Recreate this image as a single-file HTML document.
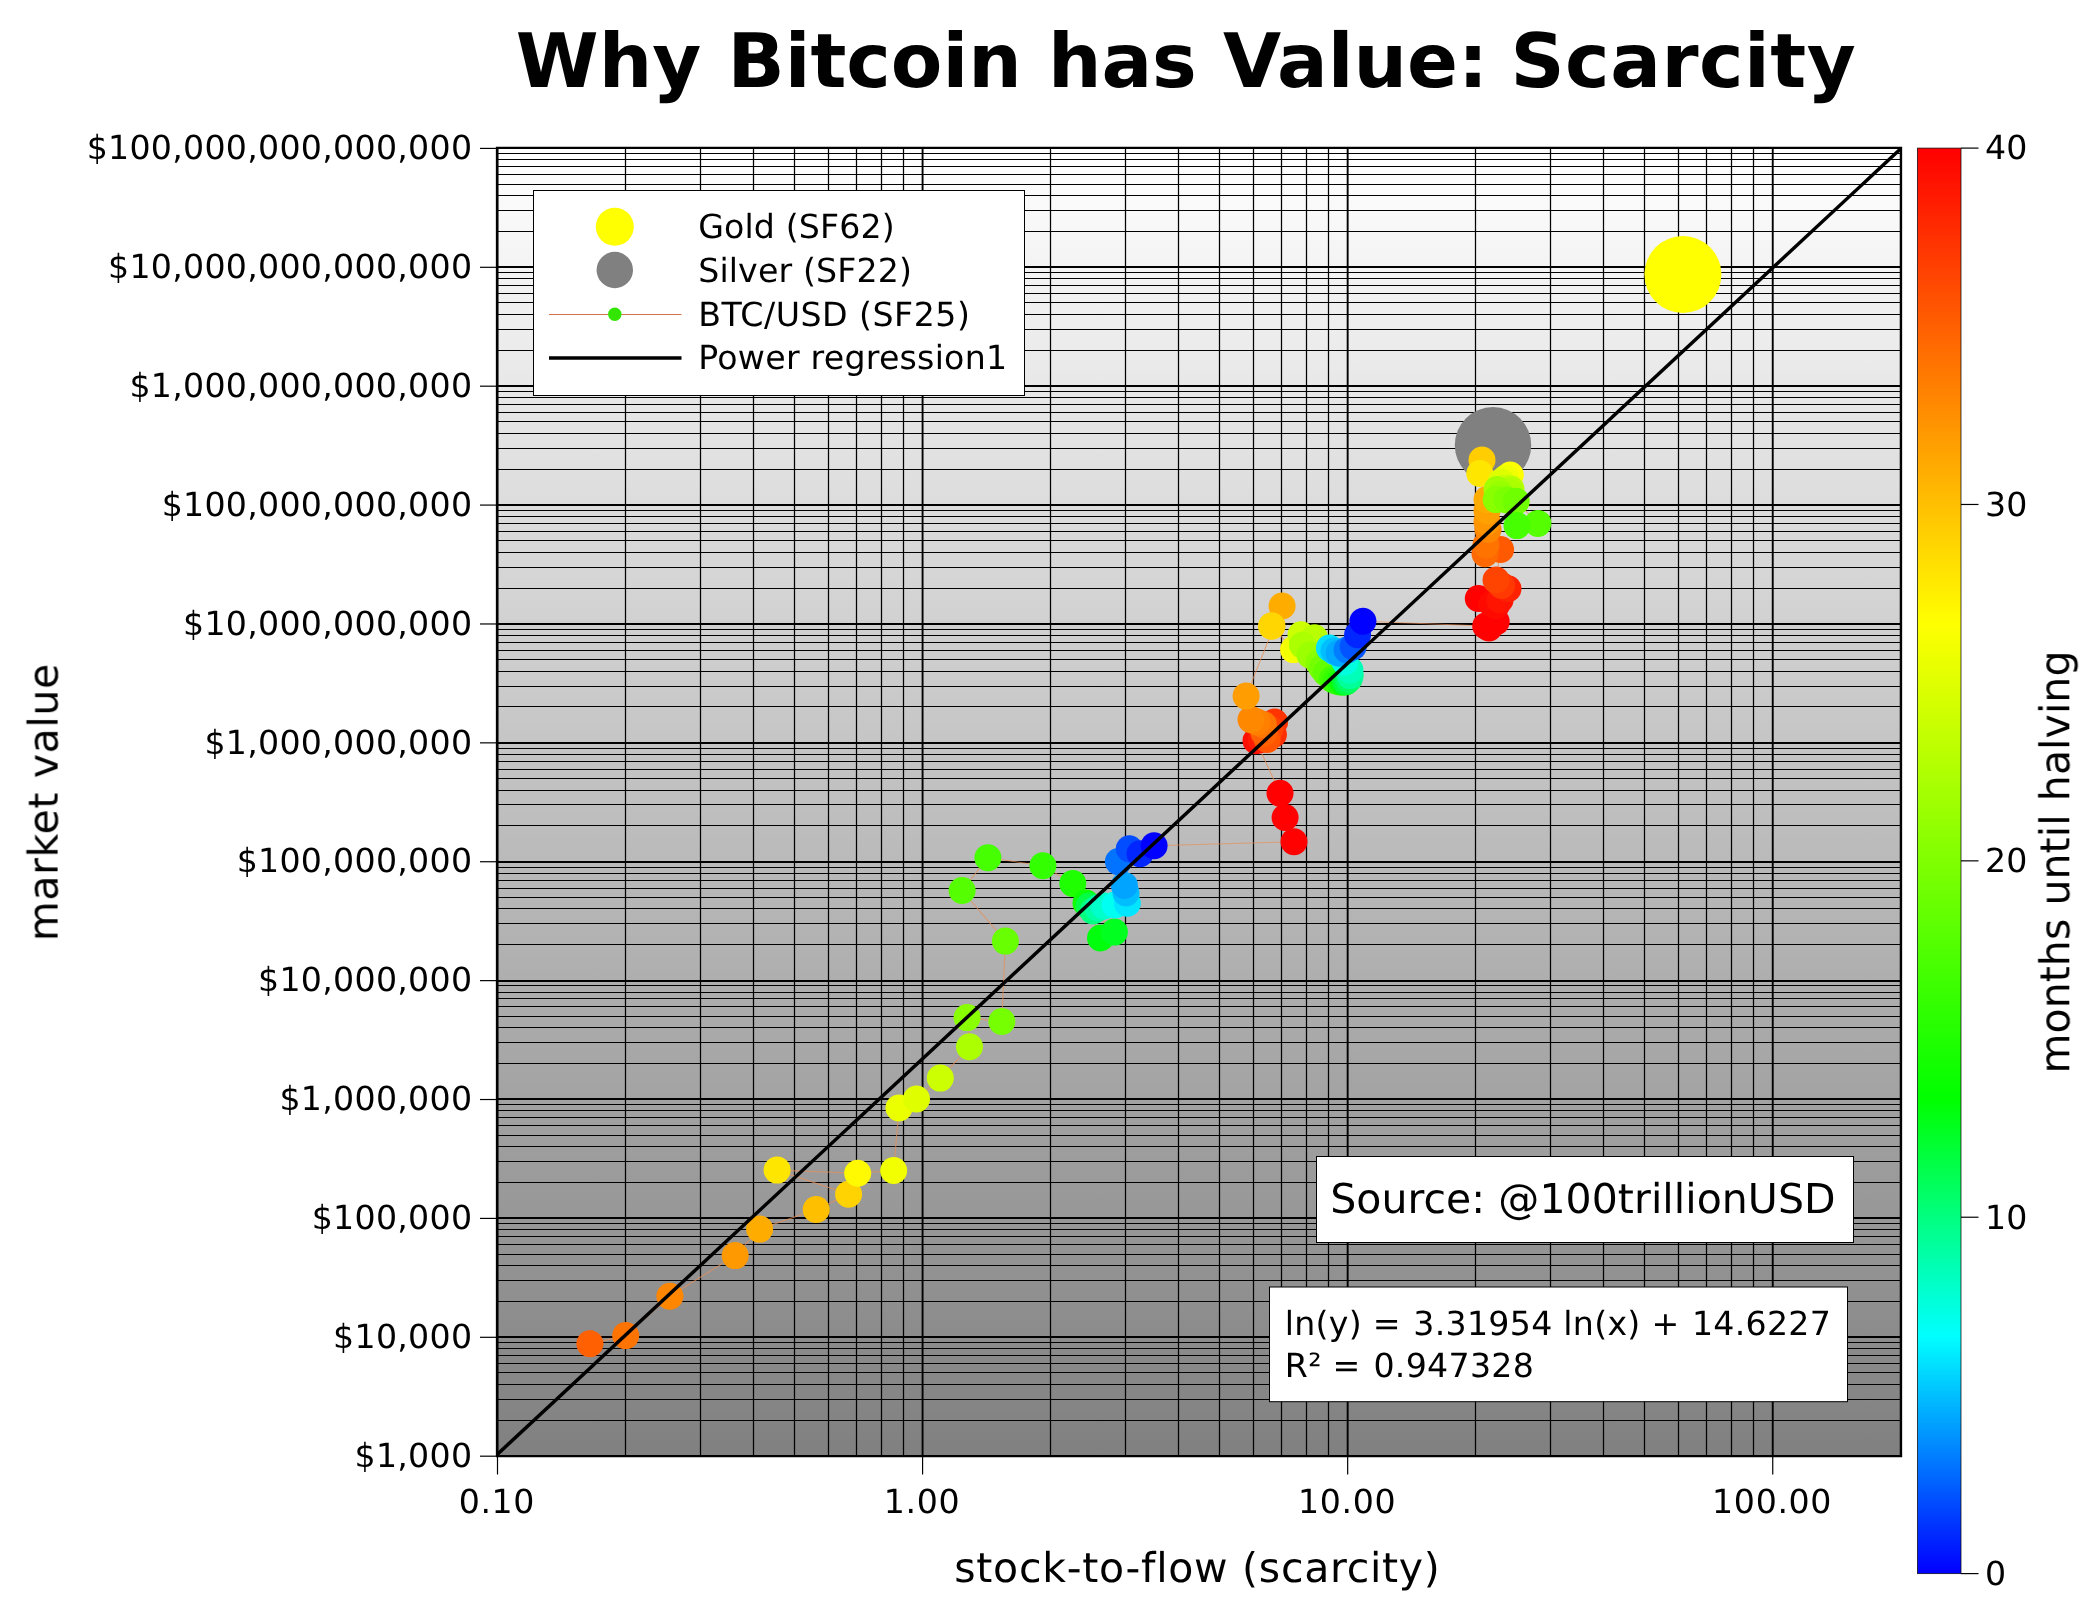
<!DOCTYPE html>
<html><head><meta charset="utf-8"><title>Why Bitcoin has Value: Scarcity</title>
<style>
html,body{margin:0;padding:0;background:#fff;}
body{width:2100px;height:1612px;overflow:hidden;}
svg{display:block;text-rendering:geometricPrecision;font-family:"DejaVu Sans","Liberation Sans",sans-serif;fill:#000;}
</style></head><body>
<svg width="2100" height="1612" viewBox="0 0 2100 1612">
<defs>
<linearGradient id="bg" x1="0" y1="0" x2="0" y2="1"><stop offset="0" stop-color="#ffffff"/><stop offset="1" stop-color="#808080"/></linearGradient>
<linearGradient id="cb" x1="0" y1="1" x2="0" y2="0"><stop offset="0" stop-color="#0000ff"/><stop offset="0.16667" stop-color="#00ffff"/><stop offset="0.33333" stop-color="#00ff00"/><stop offset="0.66667" stop-color="#ffff00"/><stop offset="1" stop-color="#ff0000"/></linearGradient>
<clipPath id="clip"><rect x="497" y="147.9" width="1404" height="1308.2"/></clipPath>
</defs>
<rect x="0" y="0" width="2100" height="1612" fill="#ffffff"/>
<g opacity="0.999">
<text x="1186.1" y="87.1" font-size="75.15" font-weight="bold" text-anchor="middle">Why Bitcoin has Value: <tspan dx="-3.7" letter-spacing="0.53">Scarcity</tspan></text>
<rect x="497" y="147.9" width="1404" height="1308.2" fill="url(#bg)"/>
<g stroke="#000" fill="none"><line x1="497" x2="1901" y1="1456" y2="1456" stroke-width="2.2"/><line x1="497" x2="1901" y1="1420.5" y2="1420.5" stroke-width="1.15"/><line x1="497" x2="1901" y1="1399.5" y2="1399.5" stroke-width="1.15"/><line x1="497" x2="1901" y1="1384.5" y2="1384.5" stroke-width="1.15"/><line x1="497" x2="1901" y1="1372.5" y2="1372.5" stroke-width="1.15"/><line x1="497" x2="1901" y1="1363.5" y2="1363.5" stroke-width="1.15"/><line x1="497" x2="1901" y1="1355.5" y2="1355.5" stroke-width="1.15"/><line x1="497" x2="1901" y1="1348.5" y2="1348.5" stroke-width="1.15"/><line x1="497" x2="1901" y1="1342.5" y2="1342.5" stroke-width="1.15"/><line x1="497" x2="1901" y1="1337" y2="1337" stroke-width="2.2"/><line x1="497" x2="1901" y1="1301.5" y2="1301.5" stroke-width="1.15"/><line x1="497" x2="1901" y1="1280.5" y2="1280.5" stroke-width="1.15"/><line x1="497" x2="1901" y1="1265.5" y2="1265.5" stroke-width="1.15"/><line x1="497" x2="1901" y1="1254.5" y2="1254.5" stroke-width="1.15"/><line x1="497" x2="1901" y1="1244.5" y2="1244.5" stroke-width="1.15"/><line x1="497" x2="1901" y1="1236.5" y2="1236.5" stroke-width="1.15"/><line x1="497" x2="1901" y1="1229.5" y2="1229.5" stroke-width="1.15"/><line x1="497" x2="1901" y1="1223.5" y2="1223.5" stroke-width="1.15"/><line x1="497" x2="1901" y1="1218" y2="1218" stroke-width="2.2"/><line x1="497" x2="1901" y1="1182.5" y2="1182.5" stroke-width="1.15"/><line x1="497" x2="1901" y1="1161.5" y2="1161.5" stroke-width="1.15"/><line x1="497" x2="1901" y1="1146.5" y2="1146.5" stroke-width="1.15"/><line x1="497" x2="1901" y1="1135.5" y2="1135.5" stroke-width="1.15"/><line x1="497" x2="1901" y1="1125.5" y2="1125.5" stroke-width="1.15"/><line x1="497" x2="1901" y1="1117.5" y2="1117.5" stroke-width="1.15"/><line x1="497" x2="1901" y1="1110.5" y2="1110.5" stroke-width="1.15"/><line x1="497" x2="1901" y1="1104.5" y2="1104.5" stroke-width="1.15"/><line x1="497" x2="1901" y1="1099" y2="1099" stroke-width="2.2"/><line x1="497" x2="1901" y1="1063.5" y2="1063.5" stroke-width="1.15"/><line x1="497" x2="1901" y1="1042.5" y2="1042.5" stroke-width="1.15"/><line x1="497" x2="1901" y1="1027.5" y2="1027.5" stroke-width="1.15"/><line x1="497" x2="1901" y1="1016.5" y2="1016.5" stroke-width="1.15"/><line x1="497" x2="1901" y1="1006.5" y2="1006.5" stroke-width="1.15"/><line x1="497" x2="1901" y1="998.5" y2="998.5" stroke-width="1.15"/><line x1="497" x2="1901" y1="992.5" y2="992.5" stroke-width="1.15"/><line x1="497" x2="1901" y1="985.5" y2="985.5" stroke-width="1.15"/><line x1="497" x2="1901" y1="981" y2="981" stroke-width="2.2"/><line x1="497" x2="1901" y1="944.5" y2="944.5" stroke-width="1.15"/><line x1="497" x2="1901" y1="923.5" y2="923.5" stroke-width="1.15"/><line x1="497" x2="1901" y1="908.5" y2="908.5" stroke-width="1.15"/><line x1="497" x2="1901" y1="897.5" y2="897.5" stroke-width="1.15"/><line x1="497" x2="1901" y1="888.5" y2="888.5" stroke-width="1.15"/><line x1="497" x2="1901" y1="880.5" y2="880.5" stroke-width="1.15"/><line x1="497" x2="1901" y1="873.5" y2="873.5" stroke-width="1.15"/><line x1="497" x2="1901" y1="867.5" y2="867.5" stroke-width="1.15"/><line x1="497" x2="1901" y1="862" y2="862" stroke-width="2.2"/><line x1="497" x2="1901" y1="825.5" y2="825.5" stroke-width="1.15"/><line x1="497" x2="1901" y1="804.5" y2="804.5" stroke-width="1.15"/><line x1="497" x2="1901" y1="790.5" y2="790.5" stroke-width="1.15"/><line x1="497" x2="1901" y1="778.5" y2="778.5" stroke-width="1.15"/><line x1="497" x2="1901" y1="769.5" y2="769.5" stroke-width="1.15"/><line x1="497" x2="1901" y1="761.5" y2="761.5" stroke-width="1.15"/><line x1="497" x2="1901" y1="754.5" y2="754.5" stroke-width="1.15"/><line x1="497" x2="1901" y1="748.5" y2="748.5" stroke-width="1.15"/><line x1="497" x2="1901" y1="743" y2="743" stroke-width="2.2"/><line x1="497" x2="1901" y1="706.5" y2="706.5" stroke-width="1.15"/><line x1="497" x2="1901" y1="686.5" y2="686.5" stroke-width="1.15"/><line x1="497" x2="1901" y1="671.5" y2="671.5" stroke-width="1.15"/><line x1="497" x2="1901" y1="659.5" y2="659.5" stroke-width="1.15"/><line x1="497" x2="1901" y1="650.5" y2="650.5" stroke-width="1.15"/><line x1="497" x2="1901" y1="642.5" y2="642.5" stroke-width="1.15"/><line x1="497" x2="1901" y1="635.5" y2="635.5" stroke-width="1.15"/><line x1="497" x2="1901" y1="629.5" y2="629.5" stroke-width="1.15"/><line x1="497" x2="1901" y1="624" y2="624" stroke-width="2.2"/><line x1="497" x2="1901" y1="588.5" y2="588.5" stroke-width="1.15"/><line x1="497" x2="1901" y1="567.5" y2="567.5" stroke-width="1.15"/><line x1="497" x2="1901" y1="552.5" y2="552.5" stroke-width="1.15"/><line x1="497" x2="1901" y1="540.5" y2="540.5" stroke-width="1.15"/><line x1="497" x2="1901" y1="531.5" y2="531.5" stroke-width="1.15"/><line x1="497" x2="1901" y1="523.5" y2="523.5" stroke-width="1.15"/><line x1="497" x2="1901" y1="516.5" y2="516.5" stroke-width="1.15"/><line x1="497" x2="1901" y1="510.5" y2="510.5" stroke-width="1.15"/><line x1="497" x2="1901" y1="505" y2="505" stroke-width="2.2"/><line x1="497" x2="1901" y1="469.5" y2="469.5" stroke-width="1.15"/><line x1="497" x2="1901" y1="448.5" y2="448.5" stroke-width="1.15"/><line x1="497" x2="1901" y1="433.5" y2="433.5" stroke-width="1.15"/><line x1="497" x2="1901" y1="421.5" y2="421.5" stroke-width="1.15"/><line x1="497" x2="1901" y1="412.5" y2="412.5" stroke-width="1.15"/><line x1="497" x2="1901" y1="404.5" y2="404.5" stroke-width="1.15"/><line x1="497" x2="1901" y1="397.5" y2="397.5" stroke-width="1.15"/><line x1="497" x2="1901" y1="391.5" y2="391.5" stroke-width="1.15"/><line x1="497" x2="1901" y1="386" y2="386" stroke-width="2.2"/><line x1="497" x2="1901" y1="350.5" y2="350.5" stroke-width="1.15"/><line x1="497" x2="1901" y1="329.5" y2="329.5" stroke-width="1.15"/><line x1="497" x2="1901" y1="314.5" y2="314.5" stroke-width="1.15"/><line x1="497" x2="1901" y1="302.5" y2="302.5" stroke-width="1.15"/><line x1="497" x2="1901" y1="293.5" y2="293.5" stroke-width="1.15"/><line x1="497" x2="1901" y1="285.5" y2="285.5" stroke-width="1.15"/><line x1="497" x2="1901" y1="278.5" y2="278.5" stroke-width="1.15"/><line x1="497" x2="1901" y1="272.5" y2="272.5" stroke-width="1.15"/><line x1="497" x2="1901" y1="267" y2="267" stroke-width="2.2"/><line x1="497" x2="1901" y1="231.5" y2="231.5" stroke-width="1.15"/><line x1="497" x2="1901" y1="210.5" y2="210.5" stroke-width="1.15"/><line x1="497" x2="1901" y1="195.5" y2="195.5" stroke-width="1.15"/><line x1="497" x2="1901" y1="184.5" y2="184.5" stroke-width="1.15"/><line x1="497" x2="1901" y1="174.5" y2="174.5" stroke-width="1.15"/><line x1="497" x2="1901" y1="166.5" y2="166.5" stroke-width="1.15"/><line x1="497" x2="1901" y1="159.5" y2="159.5" stroke-width="1.15"/><line x1="497" x2="1901" y1="153.5" y2="153.5" stroke-width="1.15"/><line x1="497" x2="1901" y1="148" y2="148" stroke-width="2.2"/><line x1="497.50" x2="497.50" y1="147.9" y2="1456.1" stroke-width="1.9"/><line x1="625.5" x2="625.5" y1="147.9" y2="1456.1" stroke-width="1.25"/><line x1="700.5" x2="700.5" y1="147.9" y2="1456.1" stroke-width="1.25"/><line x1="753.5" x2="753.5" y1="147.9" y2="1456.1" stroke-width="1.25"/><line x1="794.5" x2="794.5" y1="147.9" y2="1456.1" stroke-width="1.25"/><line x1="828.5" x2="828.5" y1="147.9" y2="1456.1" stroke-width="1.25"/><line x1="856.5" x2="856.5" y1="147.9" y2="1456.1" stroke-width="1.25"/><line x1="881.5" x2="881.5" y1="147.9" y2="1456.1" stroke-width="1.25"/><line x1="903.5" x2="903.5" y1="147.9" y2="1456.1" stroke-width="1.25"/><line x1="922.58" x2="922.58" y1="147.9" y2="1456.1" stroke-width="1.9"/><line x1="1050.5" x2="1050.5" y1="147.9" y2="1456.1" stroke-width="1.25"/><line x1="1125.5" x2="1125.5" y1="147.9" y2="1456.1" stroke-width="1.25"/><line x1="1178.5" x2="1178.5" y1="147.9" y2="1456.1" stroke-width="1.25"/><line x1="1219.5" x2="1219.5" y1="147.9" y2="1456.1" stroke-width="1.25"/><line x1="1253.5" x2="1253.5" y1="147.9" y2="1456.1" stroke-width="1.25"/><line x1="1281.5" x2="1281.5" y1="147.9" y2="1456.1" stroke-width="1.25"/><line x1="1306.5" x2="1306.5" y1="147.9" y2="1456.1" stroke-width="1.25"/><line x1="1328.5" x2="1328.5" y1="147.9" y2="1456.1" stroke-width="1.25"/><line x1="1347.66" x2="1347.66" y1="147.9" y2="1456.1" stroke-width="1.9"/><line x1="1475.5" x2="1475.5" y1="147.9" y2="1456.1" stroke-width="1.25"/><line x1="1550.5" x2="1550.5" y1="147.9" y2="1456.1" stroke-width="1.25"/><line x1="1603.5" x2="1603.5" y1="147.9" y2="1456.1" stroke-width="1.25"/><line x1="1644.5" x2="1644.5" y1="147.9" y2="1456.1" stroke-width="1.25"/><line x1="1678.5" x2="1678.5" y1="147.9" y2="1456.1" stroke-width="1.25"/><line x1="1706.5" x2="1706.5" y1="147.9" y2="1456.1" stroke-width="1.25"/><line x1="1731.5" x2="1731.5" y1="147.9" y2="1456.1" stroke-width="1.25"/><line x1="1753.5" x2="1753.5" y1="147.9" y2="1456.1" stroke-width="1.25"/><line x1="1772.74" x2="1772.74" y1="147.9" y2="1456.1" stroke-width="1.9"/><line x1="1900.5" x2="1900.5" y1="147.9" y2="1456.1" stroke-width="1.25"/></g>
<path d="M497,146.7V1457.1M495.9,1456.1H1902.2M1901,1457.1V146.7M1902.2,147.9H495.9" fill="none" stroke="#000" stroke-width="2.3"/>
<g stroke="#000" stroke-width="1.2"><line x1="480" x2="497" y1="1456.19" y2="1456.19"/><line x1="480" x2="497" y1="1337.30" y2="1337.30"/><line x1="480" x2="497" y1="1218.41" y2="1218.41"/><line x1="480" x2="497" y1="1099.52" y2="1099.52"/><line x1="480" x2="497" y1="980.63" y2="980.63"/><line x1="480" x2="497" y1="861.74" y2="861.74"/><line x1="480" x2="497" y1="742.85" y2="742.85"/><line x1="480" x2="497" y1="623.97" y2="623.97"/><line x1="480" x2="497" y1="505.08" y2="505.08"/><line x1="480" x2="497" y1="386.19" y2="386.19"/><line x1="480" x2="497" y1="267.30" y2="267.30"/><line x1="480" x2="497" y1="148.41" y2="148.41"/><line x1="497.50" x2="497.50" y1="1456.1" y2="1474.5"/><line x1="922.58" x2="922.58" y1="1456.1" y2="1474.5"/><line x1="1347.66" x2="1347.66" y1="1456.1" y2="1474.5"/><line x1="1772.74" x2="1772.74" y1="1456.1" y2="1474.5"/></g>
<g font-size="33.2" letter-spacing="0.28"><text x="472.3" y="1467.44" text-anchor="end">$1,000</text><text x="472.3" y="1348.45" text-anchor="end">$10,000</text><text x="472.3" y="1229.46" text-anchor="end">$100,000</text><text x="472.3" y="1110.47" text-anchor="end">$1,000,000</text><text x="472.3" y="991.48" text-anchor="end">$10,000,000</text><text x="472.3" y="872.49" text-anchor="end">$100,000,000</text><text x="472.3" y="753.50" text-anchor="end">$1,000,000,000</text><text x="472.3" y="634.51" text-anchor="end">$10,000,000,000</text><text x="472.3" y="515.52" text-anchor="end">$100,000,000,000</text><text x="472.3" y="396.53" text-anchor="end">$1,000,000,000,000</text><text x="472.3" y="277.54" text-anchor="end">$10,000,000,000,000</text><text x="472.3" y="158.55" text-anchor="end">$100,000,000,000,000</text><text x="496.90" y="1512.7" text-anchor="middle" letter-spacing="0.65">0.10</text><text x="921.98" y="1512.7" text-anchor="middle" letter-spacing="0.65">1.00</text><text x="1347.06" y="1512.7" text-anchor="middle" letter-spacing="0.65">10.00</text><text x="1772.14" y="1512.7" text-anchor="middle" letter-spacing="0.65">100.00</text></g>
<text x="1197.4" y="1581.6" font-size="41" letter-spacing="0.72" text-anchor="middle">stock-to-flow (scarcity)</text>
<text transform="translate(57.6,802.2) rotate(-90)" font-size="41" letter-spacing="0.62" text-anchor="middle">market value</text>
<text transform="translate(2069.3,862) rotate(-90)" font-size="41" letter-spacing="0.08" text-anchor="middle">months until halving</text>
<g clip-path="url(#clip)">
<circle cx="1682.9" cy="274.5" r="38.5" fill="#ffff00"/><circle cx="1493" cy="445.2" r="38.2" fill="#808080"/>
<path d="M589.9,1343.8 L625.7,1335.6 L669.9,1296.2 L735.2,1255.6 L759.6,1229.1 L816.2,1209.5 L848.6,1194.3 L777.1,1170.1 L857.7,1173.3 L893.7,1170.5 L899.0,1107.9 L916.5,1099.0 L940.3,1078.1 L969.5,1046.8 L967.1,1017.6 L1001.8,1021.5 L1005.4,941.1 L962.1,890.5 L987.9,857.7 L1042.9,865.7 L1072.8,883.4 L1086.0,903.0 L1100.5,938.0 L1114.4,932.1 L1089.0,906.0 L1093.0,911.0 L1098.0,908.0 L1104.0,906.0 L1115.0,905.0 L1127.3,903.3 L1126.0,893.0 L1124.4,885.4 L1118.4,861.6 L1129.3,848.7 L1140.0,853.7 L1154.1,845.7 L1294.0,841.7 L1285.1,817.5 L1280.0,793.3 L1256.0,740.7 L1261.0,739.5 L1273.4,734.5 L1274.6,722.0 L1270.0,729.0 L1267.2,739.5 L1264.0,733.0 L1263.4,724.6 L1257.0,722.0 L1251.0,719.6 L1246.1,696.1 L1282.1,606.0 L1272.0,625.7 L1271.5,626.2 L1293.6,649.6 L1296.0,648.0 L1301.0,634.7 L1314.5,637.7 L1302.5,645.1 L1310.0,655.0 L1318.9,663.0 L1322.0,668.0 L1326.0,673.0 L1332.3,679.3 L1336.0,681.0 L1340.0,682.0 L1343.0,682.0 L1345.0,682.0 L1345.7,681.6 L1347.0,681.0 L1349.0,679.0 L1350.2,675.6 L1350.0,670.0 L1345.0,662.0 L1335.0,652.0 L1329.4,648.1 L1334.0,651.0 L1339.0,653.3 L1347.0,650.0 L1353.2,646.6 L1357.6,634.7 L1362.9,621.3 L1485.7,626.0 L1496.2,621.6 L1489.0,628.0 L1478.3,598.5 L1491.7,603.7 L1496.0,606.0 L1500.0,600.0 L1508.0,588.8 L1501.5,585.5 L1496.0,580.0 L1500.6,549.5 L1485.0,553.8 L1486.0,545.0 L1488.0,529.4 L1487.0,521.9 L1487.0,510.7 L1487.0,499.6 L1482.0,460.1 L1479.8,473.5 L1510.3,475.0 L1506.0,478.0 L1501.4,481.7 L1505.0,488.0 L1511.0,489.0 L1509.6,492.1 L1497.0,489.5 L1500.6,494.4 L1504.0,499.0 L1496.2,499.6 L1507.0,500.0 L1516.2,501.2 L1537.9,523.4 L1517.0,525.6" fill="none" stroke="#e89058" stroke-opacity="0.7" stroke-width="1.15" stroke-linejoin="round"/>
<circle cx="589.9" cy="1343.8" r="13.5" fill="#ff6000"/><circle cx="625.7" cy="1335.6" r="13.5" fill="#ff7300"/><circle cx="669.9" cy="1296.2" r="13.5" fill="#ff8600"/><circle cx="735.2" cy="1255.6" r="13.5" fill="#ff9900"/><circle cx="759.6" cy="1229.1" r="13.5" fill="#ffac00"/><circle cx="816.2" cy="1209.5" r="13.5" fill="#ffbf00"/><circle cx="848.6" cy="1194.3" r="13.5" fill="#ffd200"/><circle cx="777.1" cy="1170.1" r="13.5" fill="#ffe600"/><circle cx="857.7" cy="1173.3" r="13.5" fill="#fff900"/><circle cx="893.7" cy="1170.5" r="13.5" fill="#f2ff00"/><circle cx="899.0" cy="1107.9" r="13.5" fill="#ebff00"/><circle cx="916.5" cy="1099.0" r="13.5" fill="#dfff00"/><circle cx="940.3" cy="1078.1" r="13.5" fill="#ccff00"/><circle cx="969.5" cy="1046.8" r="13.5" fill="#abff00"/><circle cx="967.1" cy="1017.6" r="13.5" fill="#89ff00"/><circle cx="1001.8" cy="1021.5" r="13.5" fill="#76ff00"/><circle cx="1005.4" cy="941.1" r="13.5" fill="#67ff00"/><circle cx="962.1" cy="890.5" r="13.5" fill="#55ff00"/><circle cx="987.9" cy="857.7" r="13.5" fill="#46ff00"/><circle cx="1042.9" cy="865.7" r="13.5" fill="#33ff00"/><circle cx="1072.8" cy="883.4" r="13.5" fill="#20ff00"/><circle cx="1086.0" cy="903.0" r="13.5" fill="#0dff00"/><circle cx="1100.5" cy="938.0" r="13.5" fill="#00ff0d"/><circle cx="1114.4" cy="932.1" r="13.5" fill="#00ff20"/><circle cx="1089.0" cy="906.0" r="13.5" fill="#00ff46"/><circle cx="1093.0" cy="911.0" r="13.5" fill="#00ff80"/><circle cx="1098.0" cy="908.0" r="13.5" fill="#00ffa6"/><circle cx="1104.0" cy="906.0" r="13.5" fill="#00ffcc"/><circle cx="1115.0" cy="905.0" r="13.5" fill="#00fff2"/><circle cx="1127.3" cy="903.3" r="13.5" fill="#00e5ff"/><circle cx="1126.0" cy="893.0" r="13.5" fill="#00bfff"/><circle cx="1124.4" cy="885.4" r="13.5" fill="#00a4ff"/><circle cx="1118.4" cy="861.6" r="13.5" fill="#0073ff"/><circle cx="1129.3" cy="848.7" r="13.5" fill="#004dff"/><circle cx="1140.0" cy="853.7" r="13.5" fill="#0026ff"/><circle cx="1154.1" cy="845.7" r="13.5" fill="#0000ff"/><circle cx="1294.0" cy="841.7" r="13.5" fill="#ff0000"/><circle cx="1285.1" cy="817.5" r="13.5" fill="#ff0000"/><circle cx="1280.0" cy="793.3" r="13.5" fill="#ff0000"/><circle cx="1256.0" cy="740.7" r="13.5" fill="#ff0f00"/><circle cx="1261.0" cy="739.5" r="13.5" fill="#ff1b00"/><circle cx="1273.4" cy="734.5" r="13.5" fill="#ff2e00"/><circle cx="1274.6" cy="722.0" r="13.5" fill="#ff3400"/><circle cx="1270.0" cy="729.0" r="13.5" fill="#ff4300"/><circle cx="1267.2" cy="739.5" r="13.5" fill="#ff5400"/><circle cx="1264.0" cy="733.0" r="13.5" fill="#ff6000"/><circle cx="1263.4" cy="724.6" r="13.5" fill="#ff7500"/><circle cx="1257.0" cy="722.0" r="13.5" fill="#ff8000"/><circle cx="1251.0" cy="719.6" r="13.5" fill="#ff8800"/><circle cx="1246.1" cy="696.1" r="13.5" fill="#ff9d00"/><circle cx="1282.1" cy="606.0" r="13.5" fill="#ffac00"/><circle cx="1272.0" cy="625.7" r="13.5" fill="#ffcd00"/><circle cx="1271.5" cy="626.2" r="13.5" fill="#ffd600"/><circle cx="1293.6" cy="649.6" r="13.5" fill="#fffe00"/><circle cx="1296.0" cy="648.0" r="13.5" fill="#f2ff00"/><circle cx="1301.0" cy="634.7" r="13.5" fill="#ccff00"/><circle cx="1314.5" cy="637.7" r="13.5" fill="#b9ff00"/><circle cx="1302.5" cy="645.1" r="13.5" fill="#abff00"/><circle cx="1310.0" cy="655.0" r="13.5" fill="#9cff00"/><circle cx="1318.9" cy="663.0" r="13.5" fill="#89ff00"/><circle cx="1322.0" cy="668.0" r="13.5" fill="#76ff00"/><circle cx="1326.0" cy="673.0" r="13.5" fill="#63ff00"/><circle cx="1332.3" cy="679.3" r="13.5" fill="#46ff00"/><circle cx="1336.0" cy="681.0" r="13.5" fill="#33ff00"/><circle cx="1340.0" cy="682.0" r="13.5" fill="#20ff00"/><circle cx="1343.0" cy="682.0" r="13.5" fill="#0dff00"/><circle cx="1345.0" cy="682.0" r="13.5" fill="#00ff0d"/><circle cx="1345.7" cy="681.6" r="13.5" fill="#00ff33"/><circle cx="1347.0" cy="681.0" r="13.5" fill="#00ff46"/><circle cx="1349.0" cy="679.0" r="13.5" fill="#00ff65"/><circle cx="1350.2" cy="675.6" r="13.5" fill="#00ff9a"/><circle cx="1350.0" cy="670.0" r="13.5" fill="#00ffb9"/><circle cx="1345.0" cy="662.0" r="13.5" fill="#00ffdf"/><circle cx="1335.0" cy="652.0" r="13.5" fill="#00f9ff"/><circle cx="1329.4" cy="648.1" r="13.5" fill="#00deff"/><circle cx="1334.0" cy="651.0" r="13.5" fill="#00bfff"/><circle cx="1339.0" cy="653.3" r="13.5" fill="#00a8ff"/><circle cx="1347.0" cy="650.0" r="13.5" fill="#007eff"/><circle cx="1353.2" cy="646.6" r="13.5" fill="#0054ff"/><circle cx="1357.6" cy="634.7" r="13.5" fill="#0026ff"/><circle cx="1362.9" cy="621.3" r="13.5" fill="#0000ff"/><circle cx="1485.7" cy="626.0" r="13.5" fill="#ff0000"/><circle cx="1496.2" cy="621.6" r="13.5" fill="#ff0000"/><circle cx="1489.0" cy="628.0" r="13.5" fill="#ff0000"/><circle cx="1478.3" cy="598.5" r="13.5" fill="#ff0000"/><circle cx="1491.7" cy="603.7" r="13.5" fill="#ff0a00"/><circle cx="1496.0" cy="606.0" r="13.5" fill="#ff0a00"/><circle cx="1500.0" cy="600.0" r="13.5" fill="#ff1300"/><circle cx="1508.0" cy="588.8" r="13.5" fill="#ff2200"/><circle cx="1501.5" cy="585.5" r="13.5" fill="#ff3900"/><circle cx="1496.0" cy="580.0" r="13.5" fill="#ff4300"/><circle cx="1500.6" cy="549.5" r="13.5" fill="#ff5a00"/><circle cx="1485.0" cy="553.8" r="13.5" fill="#ff6900"/><circle cx="1486.0" cy="545.0" r="13.5" fill="#ff7300"/><circle cx="1488.0" cy="529.4" r="13.5" fill="#ff8600"/><circle cx="1487.0" cy="521.9" r="13.5" fill="#ff9500"/><circle cx="1487.0" cy="510.7" r="13.5" fill="#ffa100"/><circle cx="1487.0" cy="499.6" r="13.5" fill="#ffac00"/><circle cx="1482.0" cy="460.1" r="13.5" fill="#ffcd00"/><circle cx="1479.8" cy="473.5" r="13.5" fill="#ffe600"/><circle cx="1510.3" cy="475.0" r="13.5" fill="#fffe00"/><circle cx="1506.0" cy="478.0" r="13.5" fill="#f2ff00"/><circle cx="1501.4" cy="481.7" r="13.5" fill="#dfff00"/><circle cx="1505.0" cy="488.0" r="13.5" fill="#ccff00"/><circle cx="1511.0" cy="489.0" r="13.5" fill="#b5ff00"/><circle cx="1509.6" cy="492.1" r="13.5" fill="#abff00"/><circle cx="1497.0" cy="489.5" r="13.5" fill="#a2ff00"/><circle cx="1500.6" cy="494.4" r="13.5" fill="#98ff00"/><circle cx="1504.0" cy="499.0" r="13.5" fill="#93ff00"/><circle cx="1496.2" cy="499.6" r="13.5" fill="#89ff00"/><circle cx="1507.0" cy="500.0" r="13.5" fill="#7cff00"/><circle cx="1516.2" cy="501.2" r="13.5" fill="#70ff00"/><circle cx="1537.9" cy="523.4" r="13.5" fill="#55ff00"/><circle cx="1517.0" cy="525.6" r="13.5" fill="#46ff00"/>
<line x1="497.5" y1="1454.2" x2="1900.4" y2="149.0" stroke="#000" stroke-width="3.45"/>
</g>
<rect x="533.5" y="190.5" width="491" height="205" fill="#fff" stroke="#000" stroke-width="1"/>
<circle cx="614.8" cy="226.7" r="19" fill="#ffff00"/><circle cx="614.8" cy="270" r="18.2" fill="#808080"/><line x1="549" x2="681.5" y1="314.5" y2="314.5" stroke="#d4714a" stroke-width="1"/><circle cx="614.8" cy="314.3" r="6.7" fill="#33e600"/><line x1="549" x2="681.5" y1="358" y2="358" stroke="#000" stroke-width="3.45"/>
<g font-size="33.2"><text x="698.2" y="238.2" letter-spacing="0.13">Gold (SF62)</text><text x="698.2" y="282" letter-spacing="0.14">Silver (SF22)</text><text x="698.2" y="325.6" letter-spacing="0.5">BTC/USD (SF25)</text><text x="698.2" y="369.4" letter-spacing="0.25">Power regression1</text></g>
<rect x="1316.5" y="1156.5" width="537" height="86" fill="#fff" stroke="#000" stroke-width="1"/>
<text x="1330.2" y="1213" font-size="41" letter-spacing="0.06">Source: @100trillionUSD</text>
<rect x="1269.5" y="1287" width="578" height="114.7" fill="#fff" stroke="#000" stroke-width="1"/>
<g font-size="33.2" letter-spacing="0.28" word-spacing="0"><text x="1284.8" y="1334.6">ln(y) =<tspan dx="1.6"> 3.31954</tspan> ln(x) +<tspan dx="1.6"> 14.6227</tspan></text><text x="1284.8" y="1376.5">R² =<tspan dx="2"> 0.947328</tspan></text></g>
<rect x="1917.5" y="148.1" width="43.5" height="1425.5" fill="url(#cb)" stroke="#000" stroke-opacity="0.8" stroke-width="0.9"/>
<g stroke="#000" stroke-width="1.2"><line x1="1961" x2="1978.5" y1="1573.60" y2="1573.60"/><line x1="1961" x2="1978.5" y1="1217.22" y2="1217.22"/><line x1="1961" x2="1978.5" y1="860.85" y2="860.85"/><line x1="1961" x2="1978.5" y1="504.47" y2="504.47"/><line x1="1961" x2="1978.5" y1="148.10" y2="148.10"/></g><g font-size="33.2" letter-spacing="0.28"><text x="1984.9" y="1584.90">0</text><text x="1984.9" y="1228.52">10</text><text x="1984.9" y="872.15">20</text><text x="1984.9" y="515.77">30</text><text x="1984.9" y="159.40">40</text></g>
</g></svg></body></html>
